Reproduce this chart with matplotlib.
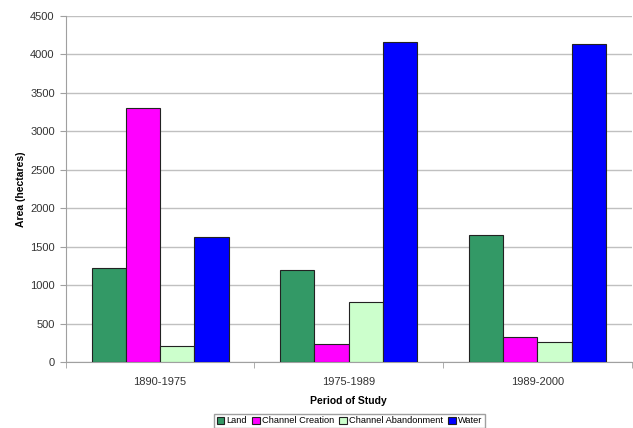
import numpy as np
import matplotlib.pyplot as plt

plt.rcParams['font.family'] = ['Liberation Sans', 'DejaVu Sans']

periods = ['1890-1975', '1975-1989', '1989-2000']
land = [1220, 1195, 1650]
creation = [3300, 232, 322]
abandonment = [208, 785, 260]
water = [1625, 4155, 4135]

series = [('Land', land, '#339966'),
          ('Channel Creation', creation, '#FF00FF'),
          ('Channel Abandonment', abandonment, '#CCFFCC'),
          ('Water', water, '#0000FF')]

fig = plt.figure(figsize=(6.33, 4.28), dpi=100)
ax = fig.add_axes([0.104, 0.154, 0.894, 0.809])

x = np.arange(len(periods))
w = 1 / 5.5
for i, (name, vals, col) in enumerate(series):
    ax.bar(x + (i - 1.5) * w, vals, w, color=col, edgecolor='#222222',
           linewidth=0.8, label=name, zorder=3)

ax.set_xlim(-0.5, 2.5)
ax.set_ylim(0, 4500)
ax.set_yticks(np.arange(0, 4501, 500))
ax.yaxis.grid(True, color='#c0c0c0', linewidth=1, zorder=0)
ax.set_xticks(x)
ax.set_xticklabels(periods)
ax.set_xticks([-0.5, 0.5, 1.5, 2.5], minor=True)
ax.tick_params(axis='x', which='major', length=0, pad=11)
ax.tick_params(axis='x', which='minor', length=4, color='#a0a0a0')
ax.tick_params(axis='y', length=4, color='#a0a0a0', pad=4)
ax.tick_params(labelsize=8, labelcolor='#333333')

for s in ['top', 'right']:
    ax.spines[s].set_visible(False)
for s in ['left', 'bottom']:
    ax.spines[s].set_color('#a0a0a0')

ax.set_ylabel('Area (hectares)', fontsize=7.5, fontweight='bold', labelpad=3)
ax.set_xlabel('Period of Study', fontsize=7.5, fontweight='bold', labelpad=6)

fig.legend(loc='lower center', bbox_to_anchor=(0.552, -0.005), ncol=4,
           fontsize=6.7, frameon=True, fancybox=False, edgecolor='#888888',
           handlelength=0.8, handleheight=0.8, handletextpad=0.2,
           columnspacing=0.6, borderpad=0.3, borderaxespad=0.2)

fig.savefig('out.png', dpi=100)
